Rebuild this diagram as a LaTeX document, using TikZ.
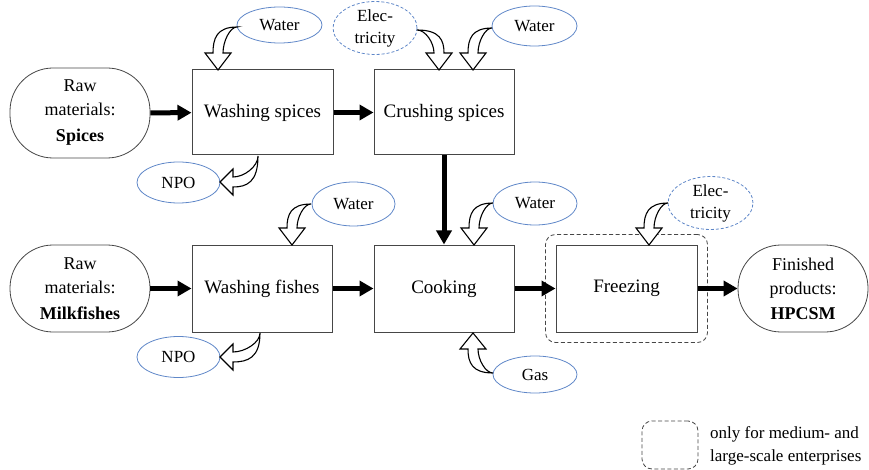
\documentclass[tikz,border=0pt]{standalone}
\usepackage{fontspec}
\setmainfont{Liberation Serif}
\usetikzlibrary{arrows.meta,shapes.geometric,fit}
\definecolor{boxgray}{RGB}{70,70,70}
\definecolor{ellblue}{RGB}{95,135,200}
\tikzset{
 proc/.style={draw=boxgray, line width=1pt, minimum width=140pt, minimum height=86pt, inner sep=0pt, font=\fontsize{19}{22}\selectfont},
 stad/.style={draw=boxgray, line width=0.8pt, rounded corners=43pt, minimum width=140pt, minimum height=87pt, inner sep=0pt, align=center, font=\fontsize{18}{24}\selectfont},
 res/.style={ellipse, draw=ellblue, line width=0.8pt, inner sep=0pt, font=\fontsize{17}{22}\selectfont, align=center},
 flow/.style={line width=5pt, -{Triangle[length=14pt,width=15pt]}},
 harr/.style={draw=black, line width=1.1pt, fill=white, line join=miter},
 dbox/.style={draw=boxgray, dash pattern=on 4pt off 2.5pt, rounded corners=10pt, line width=0.8pt},
}
% hollow curved arrow: Sx Sy Tx Ty dx dy headlength
\newcommand{\hollowarr}[7]{%
 \pgfmathsetmacro\haBx{#3-#7*(#5)}%
 \pgfmathsetmacro\haBy{#4-#7*(#6)}%
 \pgfmathsetmacro\haPx{-(#6)}%
 \pgfmathsetmacro\haPy{#5}%
 \pgfmathsetmacro\haD{(\haBx-#1)*(#5)+(\haBy-#2)*(#6)}%
 \pgfmathsetmacro\haL{(\haBx-#1)*\haPx+(\haBy-#2)*\haPy}%
 \pgfmathsetmacro\haS{ifthenelse(\haL>0,1,-1)}%
 \pgfmathsetmacro\haOx{\haBx+\haS*5*\haPx}\pgfmathsetmacro\haOy{\haBy+\haS*5*\haPy}%
 \pgfmathsetmacro\haIx{\haBx-\haS*5*\haPx}\pgfmathsetmacro\haIy{\haBy-\haS*5*\haPy}%
 \pgfmathsetmacro\haHOx{\haBx+\haS*13*\haPx}\pgfmathsetmacro\haHOy{\haBy+\haS*13*\haPy}%
 \pgfmathsetmacro\haHIx{\haBx-\haS*13*\haPx}\pgfmathsetmacro\haHIy{\haBy-\haS*13*\haPy}%
 \pgfmathsetmacro\haCAx{#1+0.85*(\haL+\haS*5)*\haPx}\pgfmathsetmacro\haCAy{#2+0.85*(\haL+\haS*5)*\haPy}%
 \pgfmathsetmacro\haCBx{\haOx-0.55*\haD*(#5)}\pgfmathsetmacro\haCBy{\haOy-0.55*\haD*(#6)}%
 \pgfmathsetmacro\haCCx{\haIx-0.45*\haD*(#5)}\pgfmathsetmacro\haCCy{\haIy-0.45*\haD*(#6)}%
 \pgfmathsetmacro\haCDx{#1+0.5*(\haL-\haS*5)*\haPx}\pgfmathsetmacro\haCDy{#2+0.5*(\haL-\haS*5)*\haPy}%
 \draw[harr] (#1,#2) .. controls (\haCAx,\haCAy) and (\haCBx,\haCBy) .. (\haOx,\haOy)
   -- (\haHOx,\haHOy) -- (#3,#4) -- (\haHIx,\haHIy) -- (\haIx,\haIy)
   .. controls (\haCCx,\haCCy) and (\haCDx,\haCDy) .. (#1,#2) -- cycle;
}
\begin{document}
\begin{tikzpicture}[x=1pt,y=-1pt]
\useasboundingbox (0,0) rectangle (869,470);
% process boxes
\node[proc, minimum width=141pt, minimum height=85pt] (ws) at (262.5,112.5) {Washing spices};
\node[proc, minimum height=85pt] (cs) at (444,112.5) {Crushing spices};
\node[proc, minimum height=87pt] (wf) at (262,288.5) {Washing fishes};
\node[proc, minimum height=87pt] (ck) at (444,288.5) {Cooking};
\node[proc, minimum width=141pt, minimum height=87pt] (fr) at (626.5,288.5) {Freezing};
\node[dbox, fit=(fr), inner xsep=10pt, inner ysep=10pt] (frd) {};
% raw materials / products
\node[stad, minimum height=90pt] (rs) at (80,113) {Raw\\materials:\\[2pt]\textbf{Spices}};
\node[stad] (rm) at (80,288.5) {Raw\\materials:\\[2pt]\textbf{Milkfishes}};
\node[stad, minimum width=130pt] (fp) at (803,288.5) {Finished\\products:\\[1pt]\textbf{HPCSM}};
% resources
\node[res, minimum width=85pt, minimum height=36pt] (w1) at (279.5,25) {Water};
\node[res, dashed, dash pattern=on 3pt off 2pt, minimum width=84pt, minimum height=50pt] (e1) at (375,28) {Elec-\\tricity};
\node[res, minimum width=85pt, minimum height=40pt] (w2) at (534.5,26) {Water};
\node[res, minimum width=83pt, minimum height=41pt] (n1) at (178.5,182.5) {NPO};
\node[res, minimum width=83pt, minimum height=44pt] (w3) at (353.5,204) {Water};
\node[res, minimum width=84pt, minimum height=43pt] (w4) at (535,203.5) {Water};
\node[res, dashed, dash pattern=on 3pt off 2pt, minimum width=85pt, minimum height=40pt] (e2) at (710.5,203) {Elec-\\tricity};
\node[res, minimum width=83pt, minimum height=41pt] (n2) at (178.5,357) {NPO};
\node[res, minimum width=84pt, minimum height=37pt] (gas) at (535,374.5) {Gas};
% main flow
\draw[flow] (rs) -- (ws);
\draw[flow] (ws) -- (cs);
\draw[flow] (cs) -- (ck);
\draw[flow] (rm) -- (wf);
\draw[flow] (wf) -- (ck);
\draw[flow] (ck) -- (fr);
\draw[flow] (fr) -- (fp);
% hollow curved arrows
\hollowarr{237}{27}{218}{70}{0}{1}{17}
\hollowarr{417}{30}{439}{70}{0}{1}{17}
\hollowarr{492}{28}{473}{70}{0}{1}{17}
\hollowarr{258}{156}{220}{182}{-1}{0}{13}
\hollowarr{311}{204}{292}{245}{0}{1}{17}
\hollowarr{493}{203}{474}{245}{0}{1}{17}
\hollowarr{668}{203}{649}{245}{0}{1}{17}
\hollowarr{260}{333}{220}{357}{-1}{0}{13}
\hollowarr{493}{373}{473}{333}{0}{-1}{16}
% legend
\node[dbox, minimum width=56pt, minimum height=48pt, inner sep=0pt] (leg) at (670,445) {};
\node[anchor=west, align=left, inner sep=0pt, font=\fontsize{17}{23}\selectfont] (legt) at (710,446) {only for medium- and\\large-scale enterprises};
\end{tikzpicture}
\end{document}
